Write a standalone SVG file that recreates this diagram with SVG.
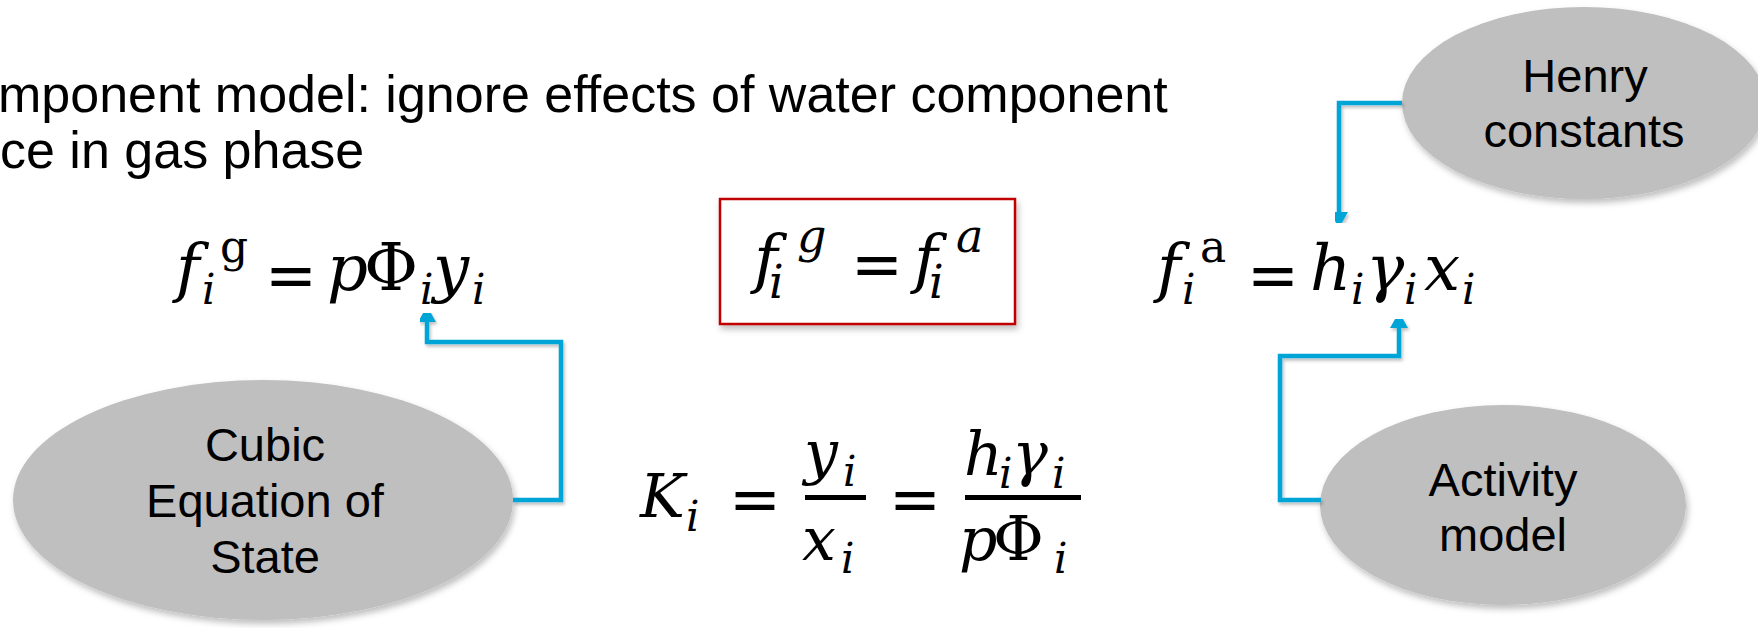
<svg xmlns="http://www.w3.org/2000/svg" width="1758" height="628" viewBox="0 0 1758 628">
<defs>
<filter id="sh" x="-10%" y="-10%" width="130%" height="140%">
<feDropShadow dx="2" dy="4" stdDeviation="3" flood-color="#000" flood-opacity="0.25"/>
</filter>
<filter id="shl" x="-5%" y="-5%" width="115%" height="115%">
<feDropShadow dx="1.5" dy="2.5" stdDeviation="1.5" flood-color="#000" flood-opacity="0.25"/>
</filter>
<marker id="ah" markerUnits="userSpaceOnUse" markerWidth="16" markerHeight="18" viewBox="0 0 16 18" refX="0" refY="9" orient="auto">
<path d="M0,0 L16,9 L0,18 z" fill="#00A5D8"/>
</marker>
</defs>
<style>
.title{font-family:"Liberation Sans",Arial,sans-serif;font-size:52px;fill:#000}
.lbl{font-family:"Liberation Sans",Arial,sans-serif;font-size:47px;fill:#000;text-anchor:middle}
.el{fill:#BFBFBF;filter:url(#sh)}
.m{font-family:"DejaVu Serif",serif;font-style:italic;font-size:64px;fill:#000}
.ms{font-family:"DejaVu Serif",serif;font-style:italic;font-size:42px;fill:#000}
.ms2{font-family:"DejaVu Serif",serif;font-style:italic;font-size:46px;fill:#000}
.r{font-family:"DejaVu Serif",serif;font-size:66px;fill:#000}
.rs{font-family:"DejaVu Serif",serif;font-size:44px;fill:#000}
.k{font-family:"DejaVu Serif",serif;font-style:italic;font-size:60px;fill:#000}
.eq{font-family:"DejaVu Sans",sans-serif;font-size:62px;fill:#000}
.conn{fill:none;stroke:#00A5D8;stroke-width:4.5;stroke-linejoin:miter;filter:url(#shl)}
</style>
<rect width="1758" height="628" fill="#fff"/>

<g id="title">
<text class="title" x="-2" y="112">mponent model: ignore effects of water component</text>
<text class="title" x="0" y="168">ce in gas phase</text>
</g>

<g id="eq-gas">
<text class="m" x="176" y="290">f</text>
<text class="ms" x="202" y="304">i</text>
<text class="rs" x="220" y="262">g</text>
<text class="eq" x="265" y="297">=</text>
<text class="m" x="327" y="290">p</text>
<text class="r" x="364" y="290">Φ</text>
<text class="ms" x="420" y="304">i</text>
<text class="m" x="433" y="290">y</text>
<text class="ms" x="472" y="304">i</text>
</g>

<g id="eq-equal">
<rect x="720" y="199" width="295" height="125" fill="#fff" stroke="#C00000" stroke-width="2.5" filter="url(#sh)"/>
<text class="m" x="754" y="281">f</text>
<text class="ms2" x="769" y="298">i</text>
<text class="ms2" x="797" y="252">g</text>
<text class="eq" x="851" y="286">=</text>
<text class="m" x="914" y="281">f</text>
<text class="ms2" x="929" y="298">i</text>
<text class="ms2" x="956" y="252">a</text>
</g>

<g id="eq-aq">
<text class="m" x="1157" y="290">f</text>
<text class="ms" x="1182" y="304">i</text>
<text class="rs" x="1200" y="262">a</text>
<text class="eq" x="1247" y="297">=</text>
<text class="m" x="1310" y="290">h</text>
<text class="ms" x="1351" y="304">i</text>
<text class="m" x="1366" y="290">γ</text>
<text class="ms" x="1404" y="304">i</text>
<text class="m" x="1424" y="290">x</text>
<text class="ms" x="1462" y="304">i</text>
</g>

<g id="eq-K">
<text class="k" x="640" y="517">K</text>
<text class="ms" x="686" y="531">i</text>
<text class="eq" x="729" y="521">=</text>
<rect x="805" y="495" width="61" height="5" fill="#000"/>
<text class="k" x="804" y="473">y</text>
<text class="ms" x="843" y="486">i</text>
<text class="k" x="802" y="560">x</text>
<text class="ms" x="841" y="573">i</text>
<text class="eq" x="889" y="521">=</text>
<rect x="965" y="495" width="116" height="5" fill="#000"/>
<text class="k" x="964" y="475">h</text>
<text class="ms" x="999" y="488">i</text>
<text class="k" x="1012" y="475">γ</text>
<text class="ms" x="1052" y="488">i</text>
<text class="k" x="959" y="560">p</text>
<text class="r" x="993" y="560" style="font-size:62px">Φ</text>
<text class="ms" x="1054" y="573">i</text>
</g>

<g id="node-cubic">
<ellipse class="el" cx="263" cy="500" rx="250" ry="120"/>
<text class="lbl" x="265" y="461">Cubic</text>
<text class="lbl" x="265" y="517">Equation of</text>
<text class="lbl" x="265" y="573">State</text>
</g>

<g id="node-henry">
<ellipse class="el" cx="1584" cy="103" rx="182" ry="96"/>
<text class="lbl" x="1585" y="92">Henry</text>
<text class="lbl" x="1584" y="147">constants</text>
</g>

<g id="node-activity">
<ellipse class="el" cx="1503" cy="505" rx="183" ry="100"/>
<text class="lbl" x="1503" y="496">Activity</text>
<text class="lbl" x="1503" y="551">model</text>
</g>

<g id="connectors">
<path class="conn" d="M513,500 H561 V342 H427 V322" marker-end="url(#ah)"/>
<path class="conn" d="M1402,103 H1339 V212" marker-end="url(#ah)"/>
<path class="conn" d="M1321,500 H1280 V356 H1399 V328" marker-end="url(#ah)"/>
</g>
</svg>
